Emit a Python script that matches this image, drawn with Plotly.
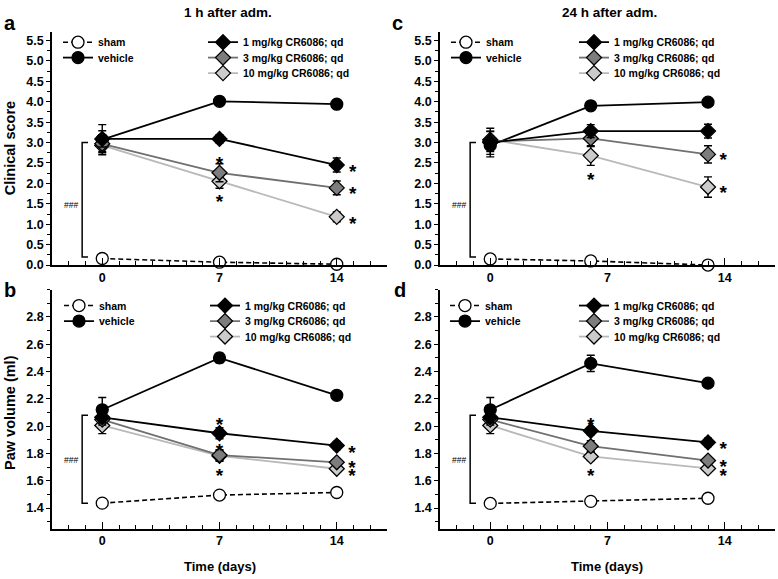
import plotly.graph_objects as go
from plotly.subplots import make_subplots

# ---------------- data ----------------
days_1h = [0, 7, 14]
days_24h = [0, 6, 13]

series_names = ["sham", "vehicle", "1 mg/kg CR6086; qd", "3 mg/kg CR6086; qd", "10 mg/kg CR6086; qd"]

# panel a: clinical score, 1 h after adm.
sham_a = [0.16, 0.07, 0.02]
sham_a_err = [0.0, 0.0, 0.0]
veh_a = [3.07, 4.01, 3.94]
veh_a_err = [0.37, 0.05, 0.06]
mg1_a = [3.09, 3.09, 2.45]
mg1_a_err = [0.2, 0.1, 0.17]
mg3_a = [2.97, 2.26, 1.89]
mg3_a_err = [0.22, 0.22, 0.17]
mg10_a = [2.93, 2.05, 1.18]
mg10_a_err = [0.15, 0.17, 0.12]

# panel c: clinical score, 24 h after adm.
sham_c = [0.15, 0.10, 0.0]
sham_c_err = [0.0, 0.0, 0.0]
veh_c = [2.93, 3.90, 3.99]
veh_c_err = [0.22, 0.09, 0.05]
mg1_c = [3.00, 3.28, 3.28]
mg1_c_err = [0.35, 0.16, 0.17]
mg3_c = [3.03, 3.10, 2.71]
mg3_c_err = [0.25, 0.2, 0.21]
mg10_c = [3.07, 2.68, 1.91]
mg10_c_err = [0.2, 0.24, 0.25]

# panel b: paw volume, 1 h after adm.
sham_b = [1.436, 1.495, 1.514]
sham_b_err = [0.0, 0.0, 0.0]
veh_b = [2.12, 2.50, 2.226]
veh_b_err = [0.09, 0.035, 0.02]
mg1_b = [2.065, 1.948, 1.858]
mg1_b_err = [0.04, 0.04, 0.03]
mg3_b = [2.048, 1.788, 1.735]
mg3_b_err = [0.04, 0.04, 0.02]
mg10_b = [2.005, 1.782, 1.688]
mg10_b_err = [0.06, 0.04, 0.02]

# panel d: paw volume, 24 h after adm.
sham_d = [1.434, 1.449, 1.472]
sham_d_err = [0.0, 0.0, 0.0]
veh_d = [2.12, 2.46, 2.315]
veh_d_err = [0.09, 0.06, 0.02]
mg1_d = [2.065, 1.966, 1.881]
mg1_d_err = [0.04, 0.03, 0.03]
mg3_d = [2.048, 1.853, 1.748]
mg3_d_err = [0.04, 0.04, 0.02]
mg10_d = [2.005, 1.778, 1.690]
mg10_d_err = [0.06, 0.03, 0.02]

# significance asterisks (x in days, y in axis units)
star_a_x = [7, 7, 14.95, 14.95, 14.95]
star_a_y = [2.62, 1.69, 2.43, 1.88, 1.16]
star_c_x = [6, 13.9, 13.9]
star_c_y = [2.23, 2.72, 1.92]
star_b_x = [7, 7, 7, 14.9, 14.9, 14.9]
star_b_y = [2.057, 1.87, 1.68, 1.855, 1.74, 1.684]
star_d_x = [6, 6, 13.9, 13.9, 13.9]
star_d_y = [2.06, 1.687, 1.88, 1.75, 1.68]

# "###" brackets: [bottom, top] in axis units
bracket_a = [0.2, 3.0]
bracket_c = [0.2, 3.0]
bracket_b = [1.436, 2.08]
bracket_d = [1.436, 2.08]
hash_y = {"a": 1.48, "c": 1.46, "b": 1.75, "d": 1.75}

clin_ticks = [0.0, 0.5, 1.0, 1.5, 2.0, 2.5, 3.0, 3.5, 4.0, 4.5, 5.0, 5.5]
paw_ticks = [1.4, 1.6, 1.8, 2.0, 2.2, 2.4, 2.6, 2.8]
day_ticks = [0, 7, 14]

# ---------------- styling ----------------
FONT = "Liberation Sans, Arial, sans-serif"
W, H = 778, 579

styles = {
    "sham": dict(mfill="white", line=dict(color="black", width=1.6, dash="5px,3px"), symbol="circle", size=12),
    "vehicle": dict(mfill="black", line=dict(color="black", width=1.8), symbol="circle", size=12),
    "mg1": dict(mfill="black", line=dict(color="black", width=1.8), symbol="diamond", size=11.5),
    "mg3": dict(mfill="#7d7d7d", line=dict(color="#707070", width=1.8), symbol="diamond", size=11.5),
    "mg10": dict(mfill="#cbcbcb", line=dict(color="#b9b9b9", width=1.8), symbol="diamond", size=11.5),
}

fig = make_subplots(rows=2, cols=2)

panels = {
    "a": dict(row=1, col=1, x=days_1h, lx=(58, 203), ly=(42.7, 58.3, 74.0),
              data={"sham": (sham_a, sham_a_err), "vehicle": (veh_a, veh_a_err), "mg1": (mg1_a, mg1_a_err),
                    "mg3": (mg3_a, mg3_a_err), "mg10": (mg10_a, mg10_a_err)}),
    "c": dict(row=1, col=2, x=days_24h, lx=(446, 574), ly=(42.7, 58.3, 74.0),
              data={"sham": (sham_c, sham_c_err), "vehicle": (veh_c, veh_c_err), "mg1": (mg1_c, mg1_c_err),
                    "mg3": (mg3_c, mg3_c_err), "mg10": (mg10_c, mg10_c_err)}),
    "b": dict(row=2, col=1, x=days_1h, lx=(59, 205), ly=(309.3, 325.0, 340.7),
              data={"sham": (sham_b, sham_b_err), "vehicle": (veh_b, veh_b_err), "mg1": (mg1_b, mg1_b_err),
                    "mg3": (mg3_b, mg3_b_err), "mg10": (mg10_b, mg10_b_err)}),
    "d": dict(row=2, col=2, x=days_24h, lx=(445, 574), ly=(309.3, 325.0, 340.7),
              data={"sham": (sham_d, sham_d_err), "vehicle": (veh_d, veh_d_err), "mg1": (mg1_d, mg1_d_err),
                    "mg3": (mg3_d, mg3_d_err), "mg10": (mg10_d, mg10_d_err)}),
}

name_of = {"sham": series_names[0], "vehicle": series_names[1], "mg1": series_names[2],
           "mg3": series_names[3], "mg10": series_names[4]}
draw_order = ["sham", "vehicle", "mg10", "mg3", "mg1"]
# legend slot: (column index, row index)
leg_slot = {"sham": (0, 0), "vehicle": (0, 1), "mg1": (1, 0), "mg3": (1, 1), "mg10": (1, 2)}

leg_font = dict(family=FONT, size=10.5, color="black", weight="bold")
legends = {}
leg_n = 0

for key, p in panels.items():
    for s in draw_order:
        vals, err = p["data"][s]
        st = styles[s]
        leg_n += 1
        lname = "legend" if leg_n == 1 else f"legend{leg_n}"
        ci, ri = leg_slot[s]
        legends[lname] = dict(x=p["lx"][ci] / W, y=1 - p["ly"][ri] / H, xanchor="left", yanchor="middle",
                              bgcolor="rgba(0,0,0,0)", font=leg_font, itemwidth=30)
        fig.add_trace(go.Scatter(
            x=p["x"], y=vals, name=name_of[s], mode="lines+markers",
            line=st["line"],
            marker=dict(symbol=st["symbol"], size=st["size"], color=st["mfill"],
                        line=dict(color="black", width=1.3)),
            error_y=dict(type="data", array=err, visible=True, color="black", thickness=1.4, width=4),
            legend=lname, showlegend=True, cliponaxis=False,
        ), row=p["row"], col=p["col"])

# asterisks (the glyph sits high in its line box, so the text anchor is lowered)
def stars(xs, ys, row, col, drop):
    fig.add_trace(go.Scatter(x=xs, y=[v - drop for v in ys], mode="text", text=["*"] * len(xs),
                             textfont=dict(family=FONT, size=19, color="black", weight="bold"),
                             textposition="middle center", showlegend=False, hoverinfo="skip",
                             cliponaxis=False), row=row, col=col)

stars(star_a_x, star_a_y, 1, 1, 0.18)
stars(star_c_x, star_c_y, 1, 2, 0.18)
stars(star_b_x, star_b_y, 2, 1, 0.058)
stars(star_d_x, star_d_y, 2, 2, 0.058)

# domains (pixel based)
xa_dom = [52 / W, 387 / W]
xc_dom = [440 / W, 775 / W]
ytop_dom = [1 - 268.3 / H, 1 - 32.7 / H]
ybot_dom = [1 - 535 / H, 1 - 293.2 / H]

axis_common = dict(showline=True, linecolor="black", linewidth=1.5, showgrid=False, zeroline=False,
                   tickfont=dict(family=FONT, size=12.5, color="black", weight="bold"))

for i, (xd, yd, rng, ticks, fmt, minor_dt) in enumerate([
        (xa_dom, ytop_dom, [0, 5.7], clin_ticks, ".1f", 0.25),
        (xc_dom, ytop_dom, [0, 5.7], clin_ticks, ".1f", 0.25),
        (xa_dom, ybot_dom, [1.25, 3.0], paw_ticks, ".1f", 0.1),
        (xc_dom, ybot_dom, [1.25, 3.0], paw_ticks, ".1f", 0.1)], start=1):
    xs = "xaxis" if i == 1 else f"xaxis{i}"
    ys = "yaxis" if i == 1 else f"yaxis{i}"
    fig.layout[xs].update(domain=xd, range=[-3, 17], tickvals=day_ticks, ticks="inside", ticklen=7,
                          tickwidth=1.4, tickcolor="black",
                          minor=dict(dtick=1, tick0=0, ticks="inside", ticklen=4, tickwidth=1.2, tickcolor="black"),
                          **axis_common)
    fig.layout[ys].update(domain=yd, range=rng, tickvals=ticks, tickformat=fmt, ticks="outside", ticklen=4,
                          tickwidth=1.4, tickcolor="black",
                          minor=dict(dtick=minor_dt, tick0=0, ticks="outside", ticklen=3, tickwidth=1.2,
                                     tickcolor="black"),
                          **axis_common)

# brackets and ###
shapes = []
annotations = []
for (br, xr, yr, hk) in [(bracket_a, "x", "y", "a"), (bracket_c, "x2", "y2", "c"),
                          (bracket_b, "x3", "y3", "b"), (bracket_d, "x4", "y4", "d")]:
    x0, x1 = -1.2, -0.85
    shapes.append(dict(type="path", xref=xr, yref=yr,
                       path=f"M {x1},{br[0]} L {x0},{br[0]} L {x0},{br[1]} L {x1},{br[1]}",
                       line=dict(color="black", width=1.5)))
    annotations.append(dict(x=-1.85, y=hash_y[hk], xref=xr, yref=yr, text="###", showarrow=False,
                            xanchor="center", yanchor="middle",
                            font=dict(family=FONT, size=8.5, color="black")))

def txt(t, x, y, size, **k):
    return dict(text=t, x=x / W, y=1 - y / H, xref="paper", yref="paper", showarrow=False,
                xanchor="center", yanchor="middle",
                font=dict(family=FONT, size=size, color="black", weight="bold"), **k)

annotations += [
    txt("1 h after adm.", 228, 13, 13.5),
    txt("24 h after adm.", 609, 13, 13.5),
    txt("a", 10, 23, 20),
    txt("c", 398, 23, 20),
    txt("b", 10, 294, 20),
    txt("d", 400, 294, 20),
    txt("Clinical score", 10, 150, 14.5, textangle=-90),
    txt("Paw volume (ml)", 10, 418, 14.5, textangle=-90),
    txt("Time (days)", 220, 573, 13),
    txt("Time (days)", 607, 573, 13),
]

fig.update_layout(
    width=W, height=H, margin=dict(l=0, r=0, t=0, b=0),
    plot_bgcolor="white", paper_bgcolor="white",
    font=dict(family=FONT, color="black"),
    shapes=shapes, annotations=annotations,
    **legends,
)

fig.write_html("out.html", config={"displayModeBar": False},
               post_script="document.body.style.margin='0px';document.body.style.overflow='hidden';")
